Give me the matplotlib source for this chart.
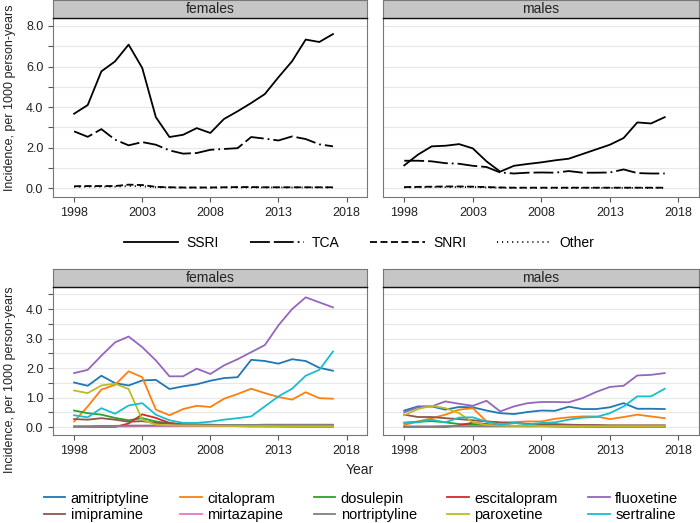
import numpy as np
import matplotlib.pyplot as plt
from matplotlib.ticker import MultipleLocator

plt.rcParams['font.family'] = ['Liberation Sans', 'DejaVu Sans']
plt.rcParams['font.size'] = 9

years = list(range(1998, 2018))

# drug classes (top row)
ssri_f = [3.67, 4.1, 5.76, 6.25, 7.08, 5.93, 3.5, 2.52, 2.63, 2.96, 2.72, 3.41, 3.79, 4.2, 4.64, 5.47, 6.26, 7.33, 7.21, 7.6]
tca_f = [2.8, 2.53, 2.91, 2.39, 2.11, 2.27, 2.14, 1.86, 1.7, 1.73, 1.89, 1.93, 1.97, 2.52, 2.44, 2.35, 2.55, 2.42, 2.16, 2.06]
snri_f = [0.09, 0.1, 0.1, 0.1, 0.17, 0.15, 0.06, 0.04, 0.03, 0.03, 0.03, 0.04, 0.05, 0.05, 0.04, 0.04, 0.04, 0.04, 0.04, 0.04]
other_f = [0.06, 0.07, 0.07, 0.07, 0.1, 0.09, 0.04, 0.03, 0.02, 0.02, 0.02, 0.03, 0.03, 0.03, 0.03, 0.03, 0.03, 0.03, 0.03, 0.03]

ssri_m = [1.12, 1.65, 2.06, 2.09, 2.17, 1.96, 1.32, 0.81, 1.1, 1.19, 1.27, 1.37, 1.45, 1.68, 1.91, 2.14, 2.47, 3.24, 3.19, 3.5]
tca_m = [1.35, 1.35, 1.32, 1.23, 1.2, 1.1, 1.04, 0.77, 0.72, 0.76, 0.77, 0.76, 0.84, 0.76, 0.76, 0.77, 0.92, 0.74, 0.72, 0.72]
snri_m = [0.05, 0.06, 0.07, 0.08, 0.08, 0.07, 0.05, 0.03, 0.02, 0.02, 0.02, 0.02, 0.02, 0.02, 0.02, 0.02, 0.02, 0.02, 0.02, 0.02]
other_m = [0.03, 0.04, 0.05, 0.05, 0.05, 0.05, 0.03, 0.02, 0.01, 0.01, 0.01, 0.01, 0.01, 0.01, 0.01, 0.01, 0.01, 0.01, 0.01, 0.01]

classes = ['SSRI', 'TCA', 'SNRI', 'Other']

# individual drugs (bottom row)
drugs = ['amitriptyline', 'citalopram', 'dosulepin', 'escitalopram', 'fluoxetine',
         'imipramine', 'mirtazapine', 'nortriptyline', 'paroxetine', 'sertraline']

fem = {
    'amitriptyline': [1.51, 1.4, 1.74, 1.49, 1.41, 1.58, 1.6, 1.29, 1.38, 1.45, 1.57, 1.66, 1.69, 2.28, 2.24, 2.15, 2.3, 2.24, 2.01, 1.91],
    'citalopram': [0.19, 0.7, 1.27, 1.43, 1.89, 1.69, 0.59, 0.4, 0.61, 0.72, 0.68, 0.96, 1.12, 1.3, 1.15, 1.02, 0.93, 1.18, 0.98, 0.96],
    'dosulepin': [0.56, 0.47, 0.42, 0.31, 0.23, 0.3, 0.19, 0.13, 0.08, 0.06, 0.05, 0.04, 0.03, 0.02, 0.02, 0.02, 0.01, 0.01, 0.01, 0.01],
    'escitalopram': [0.0, 0.0, 0.0, 0.0, 0.12, 0.43, 0.31, 0.14, 0.08, 0.06, 0.05, 0.04, 0.04, 0.04, 0.03, 0.03, 0.03, 0.03, 0.03, 0.03],
    'fluoxetine': [1.83, 1.94, 2.42, 2.87, 3.07, 2.71, 2.26, 1.72, 1.72, 1.98, 1.8, 2.09, 2.3, 2.54, 2.78, 3.45, 4.0, 4.4, 4.23, 4.06],
    'imipramine': [0.27, 0.25, 0.3, 0.25, 0.18, 0.2, 0.14, 0.12, 0.1, 0.09, 0.08, 0.07, 0.06, 0.06, 0.05, 0.05, 0.05, 0.05, 0.05, 0.05],
    'mirtazapine': [0.01, 0.01, 0.02, 0.02, 0.02, 0.03, 0.03, 0.03, 0.03, 0.03, 0.04, 0.04, 0.04, 0.05, 0.05, 0.05, 0.06, 0.06, 0.07, 0.07],
    'nortriptyline': [0.03, 0.03, 0.04, 0.04, 0.05, 0.05, 0.05, 0.05, 0.06, 0.06, 0.06, 0.07, 0.07, 0.07, 0.08, 0.08, 0.08, 0.08, 0.08, 0.08],
    'paroxetine': [1.24, 1.15, 1.41, 1.47, 1.29, 0.25, 0.08, 0.06, 0.05, 0.05, 0.04, 0.04, 0.03, 0.03, 0.03, 0.02, 0.02, 0.02, 0.02, 0.02],
    'sertraline': [0.4, 0.33, 0.64, 0.45, 0.73, 0.81, 0.42, 0.23, 0.14, 0.14, 0.18, 0.25, 0.3, 0.36, 0.7, 1.04, 1.3, 1.74, 1.94, 2.56],
}

mal = {
    'amitriptyline': [0.56, 0.7, 0.7, 0.59, 0.68, 0.67, 0.56, 0.47, 0.44, 0.51, 0.56, 0.55, 0.69, 0.61, 0.61, 0.67, 0.81, 0.62, 0.62, 0.61],
    'citalopram': [0.07, 0.19, 0.3, 0.42, 0.59, 0.64, 0.19, 0.14, 0.17, 0.19, 0.19, 0.28, 0.33, 0.36, 0.36, 0.27, 0.34, 0.42, 0.36, 0.3],
    'dosulepin': [0.15, 0.18, 0.2, 0.16, 0.1, 0.1, 0.08, 0.06, 0.04, 0.03, 0.03, 0.02, 0.02, 0.02, 0.01, 0.01, 0.01, 0.01, 0.01, 0.01],
    'escitalopram': [0.0, 0.0, 0.0, 0.0, 0.05, 0.15, 0.1, 0.06, 0.04, 0.03, 0.03, 0.03, 0.02, 0.02, 0.02, 0.02, 0.02, 0.02, 0.02, 0.02],
    'fluoxetine': [0.5, 0.67, 0.7, 0.87, 0.79, 0.72, 0.89, 0.53, 0.7, 0.81, 0.85, 0.85, 0.84, 0.98, 1.19, 1.36, 1.4, 1.75, 1.77, 1.83],
    'imipramine': [0.42, 0.34, 0.34, 0.3, 0.27, 0.23, 0.19, 0.16, 0.14, 0.11, 0.1, 0.1, 0.08, 0.07, 0.07, 0.06, 0.06, 0.06, 0.06, 0.06],
    'mirtazapine': [0.01, 0.01, 0.01, 0.02, 0.02, 0.02, 0.02, 0.02, 0.02, 0.02, 0.03, 0.03, 0.03, 0.03, 0.03, 0.03, 0.04, 0.04, 0.04, 0.04],
    'nortriptyline': [0.02, 0.02, 0.02, 0.03, 0.03, 0.03, 0.03, 0.03, 0.03, 0.03, 0.03, 0.03, 0.03, 0.03, 0.03, 0.03, 0.03, 0.03, 0.03, 0.03],
    'paroxetine': [0.4, 0.61, 0.72, 0.64, 0.47, 0.16, 0.07, 0.05, 0.04, 0.04, 0.03, 0.03, 0.03, 0.02, 0.02, 0.02, 0.02, 0.02, 0.02, 0.02],
    'sertraline': [0.14, 0.16, 0.25, 0.16, 0.32, 0.33, 0.18, 0.08, 0.14, 0.09, 0.14, 0.16, 0.25, 0.32, 0.34, 0.47, 0.7, 1.04, 1.04, 1.3],
}

class_styles = ['-', (0, (11, 2.2, 11, 2.2, 1, 2.2)), (0, (3.9, 1.9)), (0, (0.6, 2.2))]
drug_colors = plt.cm.tab10.colors

fig = plt.figure(figsize=(7, 5.23), dpi=100)
W, H = 700.0, 523.0


def make_panel(x0, x1, y0, y1, title, ylim, major, minor, show_y):
    ax = fig.add_axes([x0 / W, 1 - y1 / H, (x1 - x0) / W, (y1 - y0) / H])
    ax.set_xlim(1996.45, 2019.5)
    ax.set_ylim(*ylim)
    ax.set_xticks([1998, 2003, 2008, 2013, 2018])
    ax.yaxis.set_major_locator(MultipleLocator(major))
    ax.yaxis.set_minor_locator(MultipleLocator(minor))
    ax.yaxis.set_major_formatter(lambda v, p: '%.1f' % v)
    ax.grid(True, which='both', axis='y', color='#e8e8e8', lw=0.9)
    ax.set_axisbelow(True)
    for s in ax.spines.values():
        s.set_color('#777777')
        s.set_linewidth(0.8)
    ax.tick_params(which='both', direction='out', color='#555555', length=3.5, width=0.8,
                   labelsize=9, labelcolor='#222222', pad=3.5)
    if not show_y:
        ax.tick_params(axis='y', which='both', left=False, labelleft=False)
    # strip header
    st = fig.add_axes([x0 / W, 1 - (y0 - 0.5) / H, (x1 - x0) / W, 18 / H])
    st.set_facecolor('#c6c6c6')
    st.set_xticks([])
    st.set_yticks([])
    for s in st.spines.values():
        s.set_color('#777777')
        s.set_linewidth(0.8)
    st.spines['bottom'].set_color('#111111')
    st.spines['bottom'].set_linewidth(1.0)
    st.text(0.5, 0.5, title, ha='center', va='center', fontsize=10, color='#222222',
            transform=st.transAxes)
    return ax


ax_tf = make_panel(53, 367, 18.5, 197, 'females', (-0.44, 8.37), 2, 1, True)
ax_tm = make_panel(383, 699, 18.5, 197, 'males', (-0.44, 8.37), 2, 1, False)
ax_bf = make_panel(53, 367, 287, 435, 'females', (-0.27, 4.75), 1, 0.5, True)
ax_bm = make_panel(383, 699, 287, 435, 'males', (-0.27, 4.75), 1, 0.5, False)

# top row: drug classes
for ax, series in [(ax_tf, [ssri_f, tca_f, snri_f, other_f]),
                   (ax_tm, [ssri_m, tca_m, snri_m, other_m])]:
    for name, vals, ls in zip(classes, series, class_styles):
        ax.plot(years, vals, color='black', lw=1.3, ls=ls, label=name)

# bottom row: individual drugs
for ax, data in [(ax_bf, fem), (ax_bm, mal)]:
    for i, d in enumerate(drugs):
        ax.plot(years, data[d], color=drug_colors[i], lw=1.3, label=d)

fig.text(10 / W, 1 - 98 / H, 'Incidence, per 1000 person-years', rotation=90,
         ha='center', va='center', fontsize=9, color='#222222')
fig.text(10 / W, 1 - 380 / H, 'Incidence, per 1000 person-years', rotation=90,
         ha='center', va='center', fontsize=9, color='#222222')
fig.text(360 / W, 1 - 470 / H, 'Year', ha='center', va='center', fontsize=10, color='#222222')

h, l = ax_tf.get_legend_handles_labels()
fig.legend(h, l, loc='center', bbox_to_anchor=(359 / W, 1 - 243 / H), ncol=4,
           frameon=False, handlelength=3.9, handletextpad=0.6, columnspacing=2.2,
           fontsize=10)

h, l = ax_bf.get_legend_handles_labels()
order = [0, 5, 1, 6, 2, 7, 3, 8, 4, 9]
fig.legend([h[i] for i in order], [l[i] for i in order], loc='center',
           bbox_to_anchor=(361 / W, 1 - 507 / H), ncol=5, frameon=False,
           handlelength=1.5, handletextpad=0.35, columnspacing=2.1,
           fontsize=10.5, labelspacing=0.2)

fig.savefig('out.png', dpi=100)
